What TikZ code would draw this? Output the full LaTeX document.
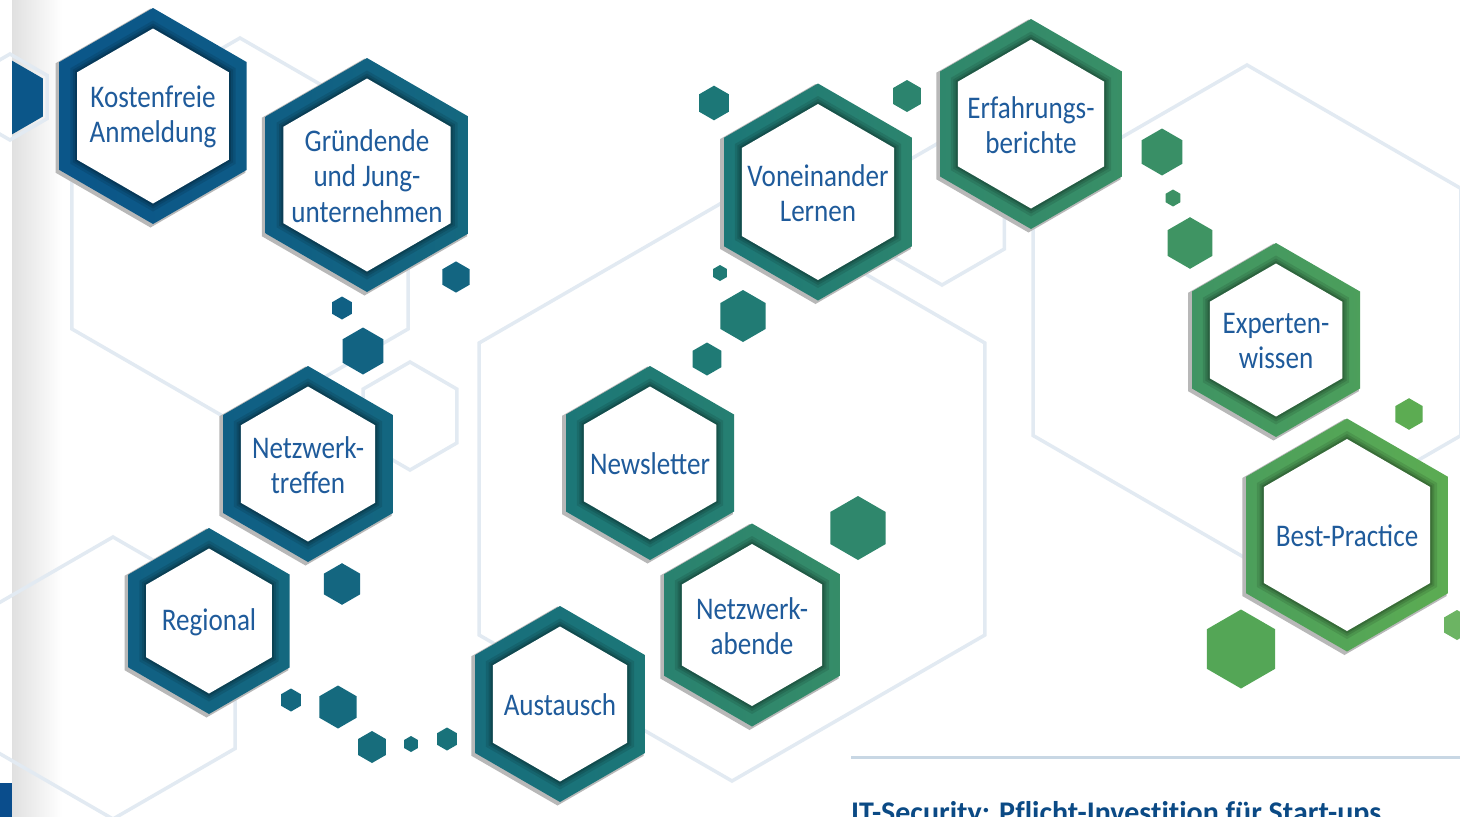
\documentclass[tikz,border=0pt]{standalone}
\usepackage{fontspec}
\newfontfamily\hexfont{Carlito}[FakeStretch=0.86]
\newfontfamily\headfont{Carlito}[Ligatures=NoCommon]
\definecolor{textblue}{HTML}{1F5B9B}
\definecolor{headblue}{HTML}{0B4A85}
\definecolor{hexblue}{HTML}{0B5689}
\definecolor{hexteal}{HTML}{1C7777}
\definecolor{hexgreen}{HTML}{5CAC52}
\definecolor{bglinecol}{HTML}{E2EAF2}
\definecolor{dividercol}{HTML}{C8D7E4}
\definecolor{edgeblue}{HTML}{0A4D8C}
\tikzset{
  bgline/.style={draw=bglinecol, line width=3.5pt, line join=miter},
  hextext/.style={font=\hexfont\fontsize{31.5}{35.5}\selectfont, text=textblue, align=center, inner sep=0pt},
  headtext/.style={font=\headfont\bfseries\fontsize{30}{36}\selectfont, text=headblue, inner sep=0pt},
  divider/.style={draw=dividercol, line width=3pt},
}
\newcommand{\hexfill}[2]{\fill[#1] (30:#2) -- (90:#2) -- (150:#2) -- (210:#2) -- (270:#2) -- (330:#2) -- cycle;}
\newcommand{\hexshade}[2]{\shade[#1] (30:#2) -- (90:#2) -- (150:#2) -- (210:#2) -- (270:#2) -- (330:#2) -- cycle;}
\newcommand{\hexline}[3]{\draw[bgline, shift={(#1,#2)}] (30:#3) -- (90:#3) -- (150:#3) -- (210:#3) -- (270:#3) -- (330:#3) -- cycle;}
\newcommand{\smallhex}[4]{\hexfill{fill=#4, shift={(#1,#2)}}{#3}}
\newcommand{\BigHex}[7]{%
  \pgfmathsetmacro\hxRo{#4}%
  \pgfmathsetmacro\hxRs{#4+1.5}%
  \pgfmathsetmacro\hxRi{#4-20.5}%
  \pgfmathsetmacro\hxRa{#4-20.5+8}%
  \pgfmathsetmacro\hxRb{#4-20.5+5}%
  \pgfmathsetmacro\hxRc{#4-20.5+2.5}%
  \begin{scope}[shift={(#2,#3)}]
    \hexfill{black!28, shift={(-2.5,2)}}{\hxRs}
    \hexshade{left color=#5, right color=#6}{\hxRo}
    \hexfill{black, opacity=.10}{\hxRa}
    \hexfill{black, opacity=.12}{\hxRb}
    \hexfill{black, opacity=.16}{\hxRc}
    \hexfill{white}{\hxRi}
    \node[hextext] (#1) at (0,1) {#7};
  \end{scope}}
\begin{document}
\begin{tikzpicture}[x=1pt, y=-1pt]
\useasboundingbox (0,0) rectangle (1460,817);
\clip (0,0) rectangle (1460,817);
\fill[white] (0,0) rectangle (1460,817);
% left page-edge shading
\shade[left color=black!12, right color=white] (12,0) rectangle (62,817);
\fill[edgeblue] (0,783) rectangle (12,817);
% background outline hexagons
\hexline{240}{232}{194}
\hexline{732}{489}{292}
\hexline{942}{213}{72}
\hexline{1247}{312}{247}
\hexline{113}{678}{141}
\hexline{410}{416}{54}
\hexline{10}{97}{43}
% partial blue hexagon at the left edge
\begin{scope}
  \clip (12,0) rectangle (100,200);
  \smallhex{10}{97.5}{38}{hexblue}
\end{scope}
% small decorative hexagons
\smallhex{456}{277}{15.6}{hexblue!55!hexteal}
\smallhex{342}{308}{11.5}{hexblue!70!hexteal}
\smallhex{363}{351}{23.5}{hexblue!60!hexteal}
\smallhex{342}{584}{20.8}{hexblue!50!hexteal}
\smallhex{291}{700}{11.5}{hexblue!45!hexteal}
\smallhex{338}{707}{21.5}{hexblue!40!hexteal}
\smallhex{372}{747}{16}{hexblue!30!hexteal}
\smallhex{411}{744}{8}{hexblue!25!hexteal}
\smallhex{447}{739}{11.5}{hexblue!15!hexteal}
\smallhex{714}{103}{17.3}{hexteal}
\smallhex{907}{96}{16}{hexteal!75!hexgreen}
\smallhex{720}{273}{8}{hexteal!95!hexgreen}
\smallhex{743}{316}{26}{hexteal!92!hexgreen}
\smallhex{707}{359}{16.5}{hexteal!95!hexgreen}
\smallhex{858}{528}{32}{hexteal!70!hexgreen}
\smallhex{1162}{152}{23.5}{hexteal!55!hexgreen}
\smallhex{1173}{198}{8.5}{hexteal!50!hexgreen}
\smallhex{1190}{243}{25.8}{hexteal!45!hexgreen}
\smallhex{1409}{414}{15.8}{hexgreen}
\smallhex{1241}{649}{39.5}{hexteal!12!hexgreen}
\smallhex{1457}{625}{15}{hexgreen!90!white}
% main hexagons
\BigHex{kosten}{153}{116}{108}{hexblue}{hexblue!85!hexteal}{Kostenfreie\\Anmeldung}
\BigHex{gruend}{367}{175}{117}{hexblue!75!hexteal}{hexblue!45!hexteal}{Gründende\\und Jung-\\unternehmen}
\BigHex{treffen}{308}{464}{98}{hexblue!75!hexteal}{hexblue!50!hexteal}{Netzwerk-\\treffen}
\BigHex{regional}{209}{621}{93}{hexblue!70!hexteal}{hexblue!45!hexteal}{Regional}
\BigHex{austausch}{560}{704}{98}{hexblue!30!hexteal}{hexteal}{Austausch}
\BigHex{news}{650}{463}{97}{hexteal}{hexteal!85!hexgreen}{Newsletter}
\BigHex{abende}{752}{625}{101.5}{hexteal!80!hexgreen}{hexteal!60!hexgreen}{Netzwerk-\\abende}
\BigHex{lernen}{818}{192}{108.5}{hexteal}{hexteal!75!hexgreen}{Voneinander\\Lernen}
\BigHex{erfahrung}{1031}{124}{105}{hexteal!70!hexgreen}{hexteal!55!hexgreen}{Erfahrungs-\\berichte}
\BigHex{experten}{1276}{340}{97}{hexteal!45!hexgreen}{hexteal!25!hexgreen}{Experten-\\wissen}
\BigHex{best}{1347}{535}{116.5}{hexteal!25!hexgreen}{hexgreen}{Best-Practice}
% divider and heading
\coordinate (divL) at (851,757);
\coordinate (divR) at (1460,757);
\draw[divider] (divL) -- (divR);
\node[headtext, anchor=base west] (heading) at (851,822) {IT-Security: Pflicht-Investition für Start-ups};
\end{tikzpicture}
\end{document}
